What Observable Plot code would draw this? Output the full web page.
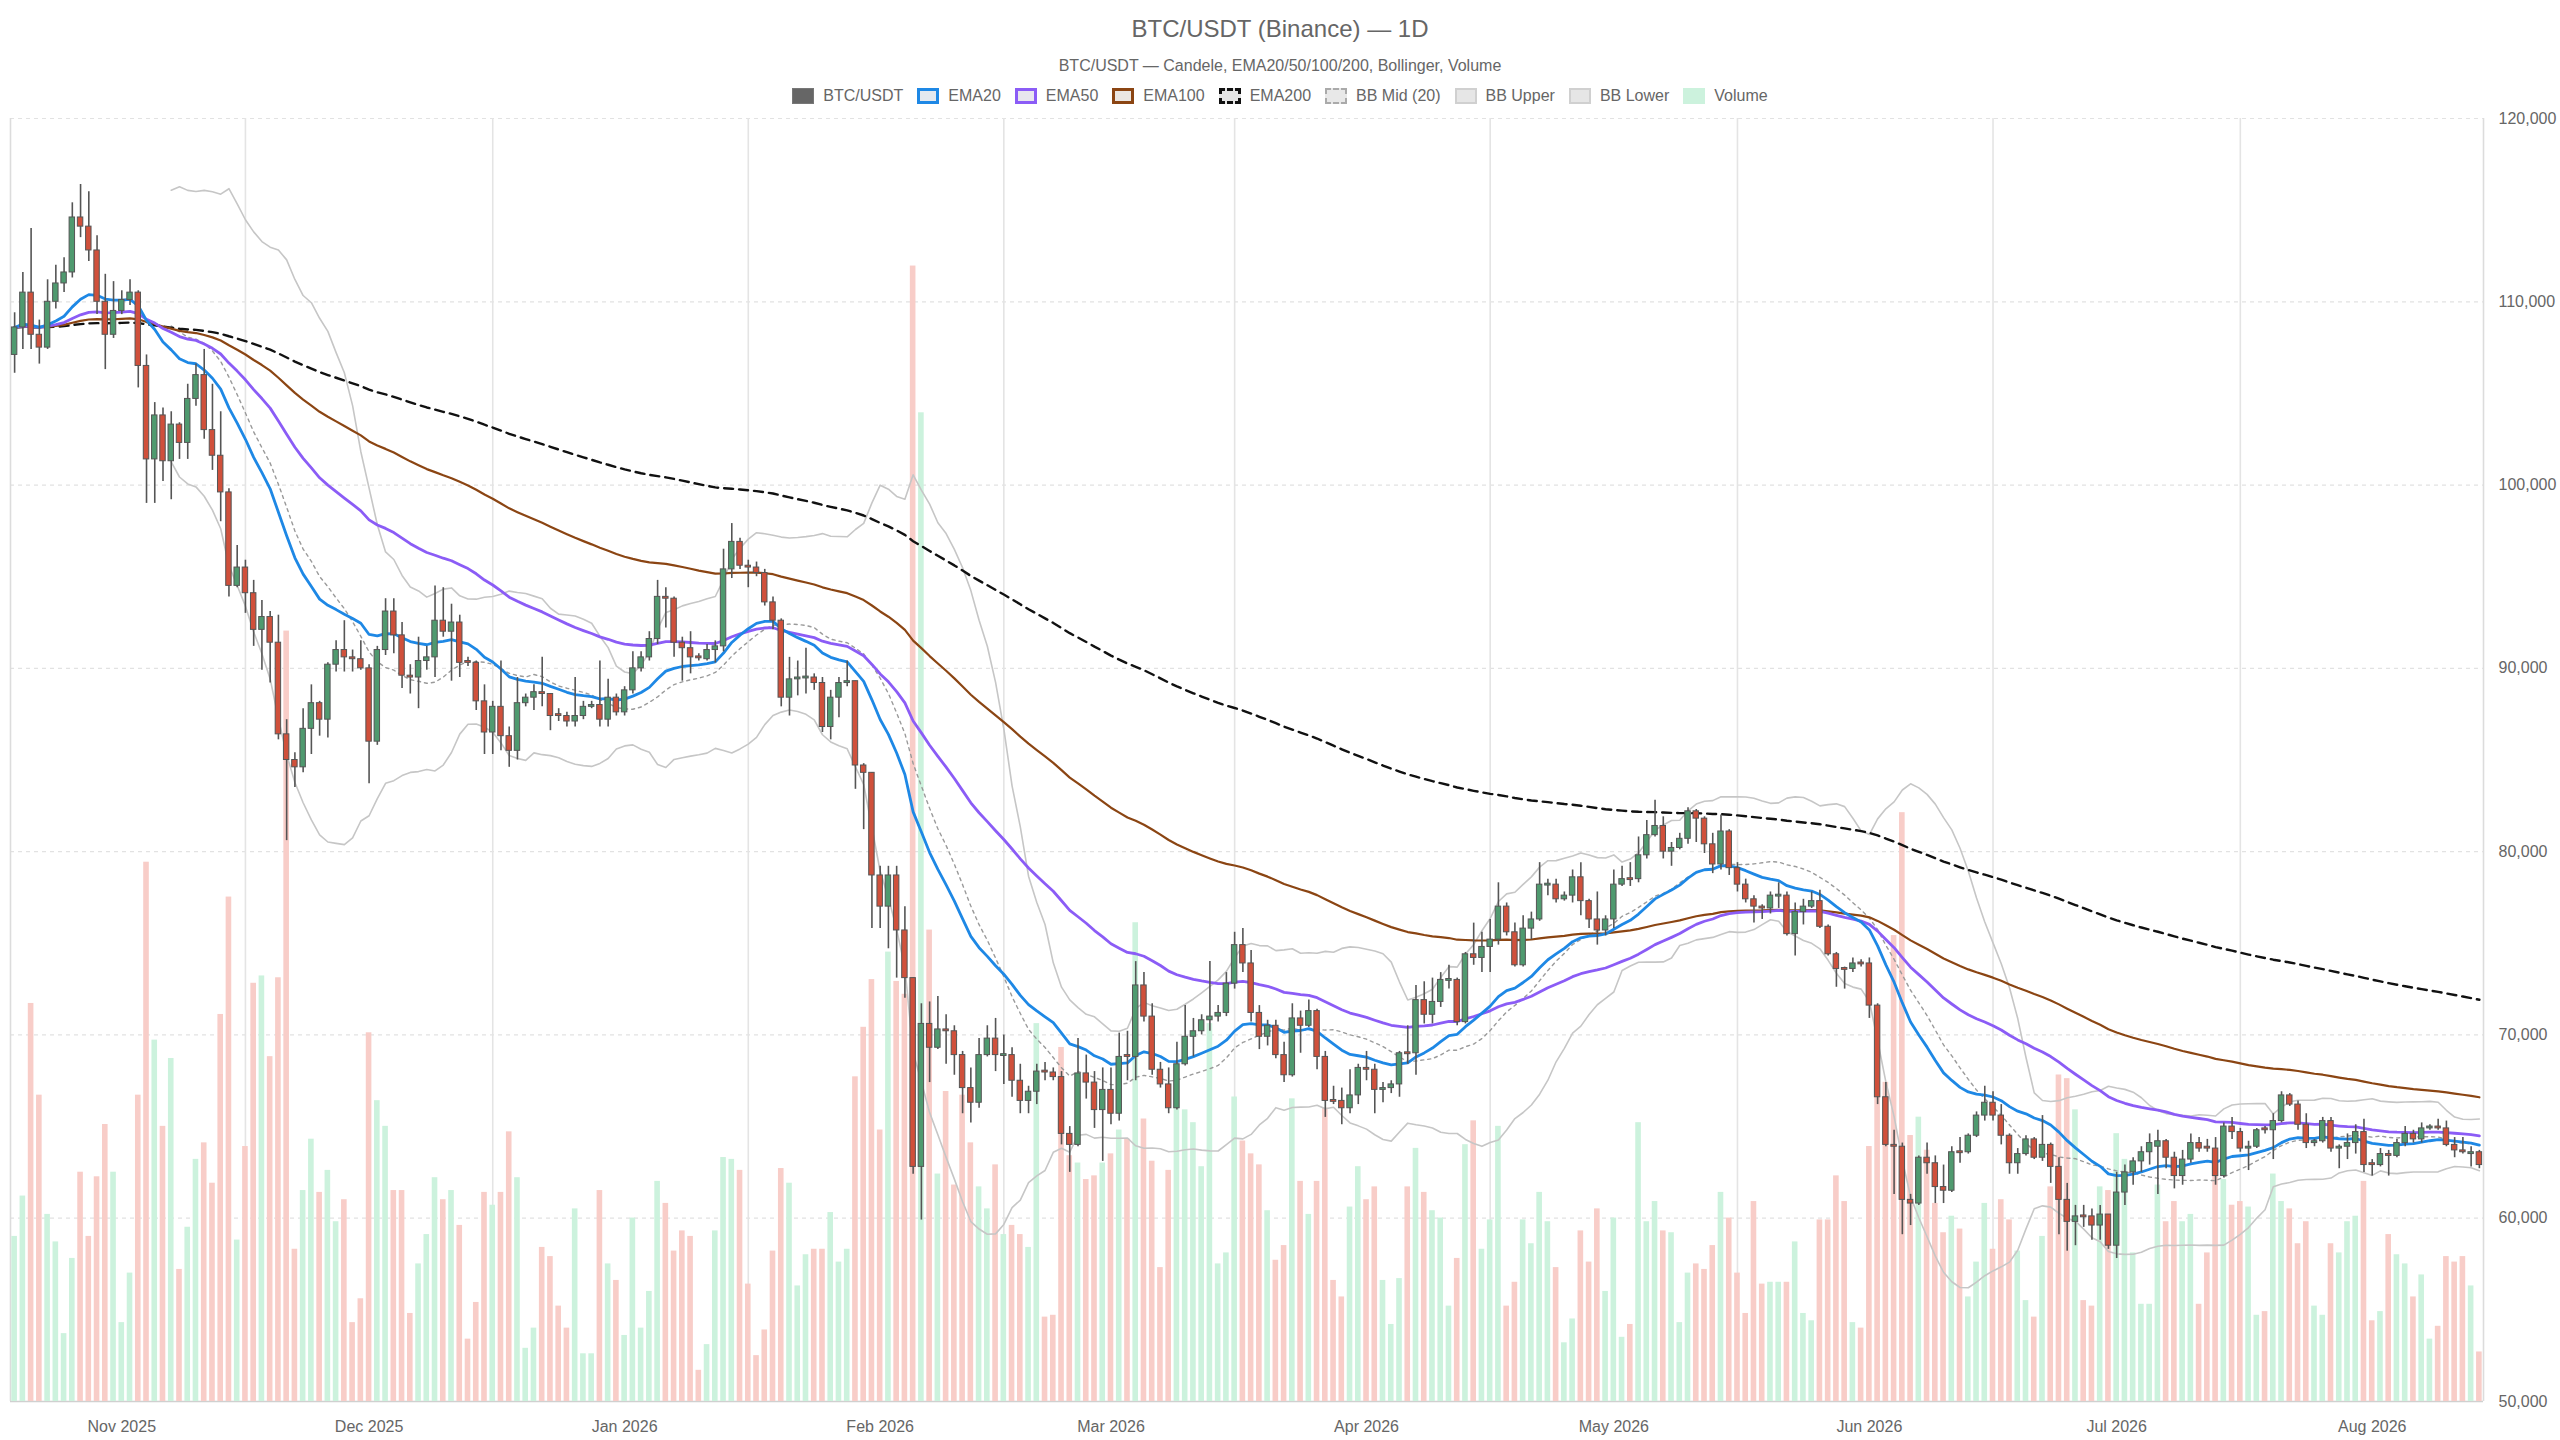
<!DOCTYPE html>
<html>
<head>
<meta charset="utf-8">
<script src="https://cdn.jsdelivr.net/npm/d3@7"></script>
<script src="https://cdn.jsdelivr.net/npm/@observablehq/plot@0.6"></script>
<style>
  html, body { margin: 0; padding: 0; background: #fff; }
  body { font-family: "Liberation Sans", Arial, sans-serif; color: #666; }
  #wrap { position: relative; width: 2560px; height: 1440px; overflow: hidden; }
  #title { position: absolute; top: 15px; left: 0; width: 100%; text-align: center; font-size: 24px; line-height: 28px; color: #666; }
  #subtitle { position: absolute; top: 56px; left: 0; width: 100%; text-align: center; font-size: 16px; line-height: 20px; color: #666; }
  #legend { position: absolute; top: 86px; left: 0; width: 100%; display: flex; justify-content: center; align-items: center; font-size: 16px; line-height: 20px; color: #666; }
  .item { display: flex; align-items: center; margin: 0 7px; }
  .sw { display: inline-block; width: 22px; height: 16px; margin-right: 9px; box-sizing: border-box; }
  #chart { position: absolute; top: 110px; left: 0; }
</style>
</head>
<body>
<div id="wrap">
  <div id="title"></div>
  <div id="subtitle"></div>
  <div id="legend"></div>
  <div id="chart"></div>
</div>
<script>
// ---------------- DATA (prices in thousands USDT, daily from 2025-10-19) ----------------
const titleText = "BTC/USDT (Binance) — 1D";
const subtitleText = "BTC/USDT — Candele, EMA20/50/100/200, Bollinger, Volume";
const startDay = "2025-10-19";

const open = [
107.1,108.6,110.5,108.2,107.5,110.0,111.0,111.6,114.6,114.1, 112.8,110.0,108.2,109.5,110.1,110.5,106.5,101.4,103.8,101.3,
103.3,102.3,104.7,106.0,103.0,101.6,99.6,94.5,95.5,94.1, 92.1,92.8,91.4,86.4,85.0,84.6,86.7,88.1,87.2,90.2,
91.0,90.6,90.5,90.0,86.0,91.0,93.1,91.8,89.6,89.5,
90.4,90.6,92.6,92.0,92.5,90.4,90.3,88.2,86.5,87.9, 86.3,85.5,88.1,88.4,88.7,88.6,87.5,87.4,87.1,87.4,
87.9,88.0,87.2,88.4,87.6,88.8,90.0,90.6,91.6,93.9, 93.8,91.4,91.1,90.65,90.5,91.0,91.2,95.4,96.9,95.6,
95.5,95.2,93.6,92.6,88.4,89.4,89.45,89.5,89.2,86.8,
88.4,89.2,89.3,84.7,84.3,78.7,77.0,78.7,75.7,73.1, 62.8,70.6,69.3,70.3,70.2,68.9,67.1,66.3,68.9,69.8,
68.85,68.9,67.5,66.4,66.9,68.05,67.95,67.7,64.6,64.0, 67.9,67.4,65.9,67.0,65.7,68.9,68.8,72.7,71.0,68.1,
67.3,66.0,68.4,69.9,70.2,70.8,71.0,71.2,72.8,74.9,
73.9,71.2,69.9,70.5,68.9,67.8,70.9,70.5,71.3,68.8, 66.45,66.4,66.0,66.7,68.2,68.1,67.0,67.1,67.3,69.05,
69.0,71.9,71.1,71.8,72.95,73.0,70.7,74.4,74.2,74.8, 75.2,77.0,75.6,73.8,75.8,76.3,78.15,78.2,77.4,77.6,
78.6,77.3,76.3,75.7,76.3,78.2,78.55,78.5,79.8,80.9,
81.4,80.0,80.2,80.7,82.2,81.8,80.4,79.3,81.1,79.1, 78.2,77.4,77.0,76.9,77.55,77.6,75.5,76.7,77.0,77.3,
75.9,74.4,73.65,73.6,73.95,73.9,71.6,66.6,64.0,63.9, 61.0,60.8,63.3,63.0,61.7,61.5,63.65,63.6,64.5,65.6,
66.3,65.6,64.5,63.0,63.5,64.3,63.3,64.0,62.8,61.0,
59.8,60.15,60.1,59.6,60.2,58.5,61.4,62.5,63.1,63.6, 63.9,64.2,63.3,62.3,63.2,64.1,63.9,63.8,62.3,65.0,
64.7,63.8,63.9,64.9,64.8,65.3,66.7,66.2,65.1,64.1, 64.2,65.3,63.8,63.9,64.1,64.7,63.0,62.9,63.5,63.4,
64.1,64.6,64.3,64.9,65.0,64.9,64.0,63.7,63.5,63.6
];
const high = [
109.4,111.6,114.0,109.0,111.2,112.0,112.4,115.4,116.4,116.0, 113.6,111.5,111.1,110.6,111.2,110.6,107.1,104.5,104.2,104.0,
103.4,105.5,106.6,107.4,105.5,104.0,99.8,96.7,95.9,94.8, 93.7,93.1,92.9,87.2,85.4,87.8,89.1,88.2,90.3,91.5,
92.6,91.0,91.5,90.2,91.2,93.8,93.8,92.5,90.2,91.7,
91.2,94.5,94.4,93.5,92.9,90.6,90.4,89.1,88.2,90.4, 86.8,89.5,88.6,89.1,90.6,88.6,87.8,87.6,89.5,88.2,
88.2,90.4,89.4,88.6,89.0,90.9,90.9,92.0,94.8,94.4, 93.9,91.7,92.0,90.8,91.3,91.5,96.5,97.9,97.1,95.9,
95.8,95.4,93.9,92.7,90.6,90.4,91.1,89.7,89.5,88.8,
89.5,90.4,89.3,84.8,84.3,79.2,79.2,79.2,77.0,73.1, 71.7,71.8,72.1,71.1,70.5,69.1,68.2,69.8,70.5,70.9,
70.0,69.3,68.4,67.2,68.4,68.5,68.2,68.0,65.0,69.8, 68.9,68.0,68.2,68.2,70.1,70.2,74.0,73.4,71.7,68.5,
68.2,69.6,71.6,70.9,71.1,74.0,71.6,73.4,75.6,75.8,
74.6,71.6,70.8,70.8,69.6,71.7,71.3,71.9,71.4,69.1, 67.2,67.1,68.1,68.4,69.1,68.4,67.4,67.5,69.1,70.5,
72.7,72.9,73.1,73.4,73.8,73.1,74.5,76.1,75.6,76.3, 78.3,77.2,76.1,76.5,76.7,79.4,78.5,78.5,77.8,79.0,
79.4,77.4,77.8,76.5,79.0,79.2,79.4,80.8,81.7,82.8,
81.9,80.5,81.0,82.4,82.3,81.9,81.0,82.0,81.2,79.4, 78.5,77.6,77.1,77.8,78.3,77.8,77.2,77.4,77.8,77.9,
76.0,74.5,73.7,74.2,74.1,74.2,71.7,67.4,64.8,64.1, 61.3,63.4,64.1,63.4,62.9,63.9,64.4,64.6,65.8,67.2,
66.9,66.2,64.6,63.8,64.5,64.4,65.6,64.1,63.3,61.9,
60.7,60.7,60.5,60.7,60.2,62.5,62.9,63.3,63.9,64.6, 64.8,64.3,63.6,63.7,64.6,64.4,64.3,64.4,65.2,65.5,
64.9,64.2,64.9,65.0,65.7,66.9,66.8,66.4,65.7,64.3, 65.5,65.5,64.0,64.6,65.1,65.4,63.2,63.8,63.7,64.3,
65.0,64.8,65.2,65.1,65.4,65.3,64.4,64.4,63.9,63.7
];
const low = [
106.1,107.4,107.4,106.6,107.4,109.6,110.5,111.3,113.5,112.2, 109.3,106.3,108.0,109.3,109.8,105.3,99.0,99.0,100.2,99.2,
101.4,101.4,104.3,102.5,100.8,98.0,93.9,94.4,93.0,91.2, 89.9,89.2,86.1,80.6,83.5,84.3,85.3,86.3,86.2,89.8,
89.8,89.8,89.9,83.7,85.8,90.7,90.8,88.9,88.6,87.8,
89.9,89.5,91.7,89.3,89.5,90.1,87.7,85.3,85.3,85.5, 84.6,85.0,87.9,87.7,87.9,86.6,87.1,86.8,86.8,87.2,
87.8,86.8,86.8,87.4,87.4,88.6,89.8,90.4,91.3,92.2, 90.6,89.3,89.7,90.4,90.4,90.3,90.9,94.9,95.4,94.4,
95.0,93.4,92.1,87.9,87.4,88.5,88.6,88.8,86.5,86.1,
87.3,89.0,83.4,81.2,75.8,75.8,74.7,73.1,72.0,62.4, 59.9,67.4,69.2,68.4,67.8,65.7,65.2,66.0,68.8,68.0,
67.3,66.6,65.7,65.7,66.2,67.5,67.5,64.0,62.5,63.9, 66.5,64.9,63.1,65.1,65.3,67.5,67.5,70.7,67.8,67.1,
65.7,65.9,68.3,68.8,70.0,70.2,70.7,71.0,72.5,73.4,
70.7,69.2,69.4,68.7,67.4,67.7,69.0,70.4,68.1,65.5, 66.2,65.1,65.7,66.2,67.5,65.7,66.3,66.8,66.6,68.4,
67.8,70.6,70.6,71.5,72.5,70.5,70.6,73.8,73.4,73.4, 74.9,75.4,73.7,73.7,75.2,76.2,77.6,77.2,77.3,77.2,
76.5,75.8,74.9,75.4,75.8,78.1,78.1,78.3,79.6,80.8,
79.6,79.2,80.1,80.4,80.5,79.9,78.8,79.0,78.7,77.8, 77.2,76.1,76.3,76.6,76.9,75.4,74.3,76.0,76.9,75.8,
74.3,72.6,72.5,73.4,73.7,70.9,66.2,63.9,61.3,59.1, 59.6,60.7,62.4,60.8,60.8,61.4,63.0,63.5,64.4,65.3,
65.3,64.0,62.4,62.4,63.4,63.2,63.1,61.9,59.1,58.2,
58.5,59.5,58.8,58.8,58.3,57.8,60.7,61.8,62.5,62.9, 61.3,62.7,61.6,61.8,63.0,63.6,63.6,61.8,62.2,64.3,
63.6,62.6,63.8,64.6,63.2,65.2,66.1,64.8,63.8,63.9, 64.1,63.6,62.7,63.2,63.5,62.5,62.3,62.8,62.3,63.3,
63.9,64.1,64.1,64.8,64.8,63.9,63.3,63.5,62.8,62.7
];
const close = [
108.6,110.5,108.2,107.5,110.0,111.0,111.6,114.6,114.1,112.8, 110.0,108.2,109.5,110.1,110.5,106.5,101.4,103.8,101.3,103.3,
102.3,104.7,106.0,103.0,101.6,99.6,94.5,95.5,94.1,92.1, 92.8,91.4,86.4,85.0,84.6,86.7,88.1,87.2,90.2,91.0,
90.6,90.5,90.0,86.0,91.0,93.1,91.8,89.6,89.5,90.4,
90.6,92.6,92.0,92.5,90.3,90.3,88.2,86.5,87.9,86.3, 85.5,88.1,88.4,88.7,88.6,87.4,87.4,87.1,87.4,87.9,
88.0,87.2,88.4,87.6,88.8,90.0,90.6,91.6,93.9,93.8, 91.4,91.1,90.6,90.55,91.0,91.2,95.4,96.9,95.6,95.5,
95.2,93.6,92.6,88.4,89.4,89.5,89.55,89.2,86.8,88.4,
89.2,89.3,84.7,84.3,78.7,77.0,78.7,75.7,73.1,62.8, 70.6,69.3,70.3,70.2,68.9,67.1,66.3,68.9,69.8,68.9,
68.95,67.5,66.4,66.9,68.0,67.95,67.7,64.6,64.0,67.9, 67.4,65.9,67.0,65.7,68.8,68.8,72.7,71.0,68.1,67.3,
66.0,68.4,69.9,70.2,70.8,71.0,71.2,72.8,74.9,73.9,
71.2,69.9,70.5,68.9,67.8,70.9,70.5,71.3,68.8,66.4, 66.35,66.0,66.7,68.2,68.1,67.0,67.1,67.3,69.0,68.95,
71.9,71.1,71.8,73.0,73.05,70.7,74.4,74.2,74.8,75.2, 77.0,75.6,73.8,75.8,76.3,78.2,78.25,77.4,77.6,78.6,
77.3,76.3,75.7,76.3,78.2,78.5,78.45,79.8,80.9,81.4,
80.0,80.2,80.7,82.2,81.8,80.4,79.3,81.1,79.1,78.2, 77.4,77.0,76.9,77.6,77.65,75.5,76.7,77.0,77.3,75.9,
74.4,73.6,73.55,73.9,73.85,71.6,66.6,64.0,63.9,61.0, 60.8,63.3,63.0,61.7,61.5,63.6,63.55,64.5,65.6,66.3,
65.6,64.5,63.0,63.5,64.3,63.3,64.0,62.8,61.0,59.8,
60.1,60.05,59.6,60.2,58.5,61.4,62.5,63.1,63.6,64.1, 64.2,63.3,62.3,63.2,64.1,63.8,63.8,62.3,65.0,64.7,
63.8,63.9,64.8,64.8,65.3,66.7,66.2,65.1,64.1,64.2, 65.3,63.8,63.9,64.1,64.7,62.9,62.9,63.5,63.4,64.1,
64.6,64.3,64.9,65.0,64.9,64.0,63.7,63.6,63.6,62.9
];
// daily volume, thousand BTC
const volume = [
9.0,11.2,21.7,16.7,10.2,8.7,3.7,7.8,12.5,9.0, 12.25,15.1,12.5,4.3,7.0,16.7,29.4,19.7,15.0,18.7,
7.2,9.5,13.2,14.1,11.9,21.1,27.5,8.8,13.9,22.8, 23.2,18.8,23.1,42.0,8.3,11.5,14.3,11.4,12.6,9.8,
11.0,4.3,5.6,20.1,16.4,15.0,11.5,11.5,4.8,7.5,
9.1,12.2,11.0,11.5,9.6,3.4,5.4,11.4,10.7,11.4, 14.7,12.2,2.9,4.0,8.4,7.9,5.2,4.0,10.5,2.6,
2.6,11.5,7.5,6.6,3.6,10.0,4.0,6.0,12.0,10.8, 8.2,9.3,9.0,1.7,3.1,9.3,13.3,13.2,12.6,6.4,
2.5,3.9,8.2,12.7,11.9,6.3,8.0,8.3,8.3,10.3,
7.6,8.3,17.7,20.4,23.0,14.8,24.5,22.9,22.2,61.9, 53.9,25.7,12.4,16.9,11.8,16.7,14.1,11.7,10.5,12.9,
9.1,9.6,9.1,8.4,20.6,4.6,4.7,19.3,13.4,13.0, 12.1,12.3,13.0,13.5,14.8,14.3,26.1,15.4,13.1,7.3,
12.6,16.6,15.9,15.2,12.8,20.6,7.5,8.1,16.6,14.2,
13.5,12.9,10.4,7.7,8.5,16.5,12.0,10.2,12.0,16.0, 6.6,5.7,10.6,12.8,11.0,11.7,6.6,4.2,6.7,11.7,
13.8,11.4,10.4,10.0,5.2,7.8,14.0,15.3,8.3,9.9, 15.0,5.2,6.5,9.9,8.6,11.4,9.8,7.3,3.2,4.5,
9.3,7.6,10.5,6.0,10.0,3.5,4.2,15.2,9.8,10.9,
9.3,9.2,4.3,7.0,7.5,7.2,8.5,11.4,10.0,7.0, 4.8,10.9,6.4,6.5,6.5,6.5,8.7,4.8,4.4,9.9,
9.9,12.3,10.9,4.3,4.0,13.9,17.5,17.4,25.4,32.1, 14.5,15.5,13.7,10.8,9.2,10.1,9.4,5.7,7.6,10.8,
8.3,11.0,9.9,8.2,5.5,4.6,9.0,11.7,17.8,17.6,
15.9,5.5,5.2,11.7,11.5,14.6,13.2,8.1,5.3,5.3, 11.8,9.8,10.9,9.8,10.2,5.3,8.1,13.0,12.1,10.7,
10.9,10.6,4.7,4.9,12.4,10.9,10.5,8.6,9.8,5.2, 4.7,8.6,8.1,9.8,10.1,12.0,4.4,4.9,9.1,8.0,
7.5,5.7,6.9,3.4,4.1,7.9,7.6,7.9,6.3,2.7
];

const yTicks = [50000, 60000, 70000, 80000, 90000, 100000, 110000, 120000];
const monthTicks = ["2025-11-01","2025-12-01","2026-01-01","2026-02-01","2026-03-01","2026-04-01","2026-05-01","2026-06-01","2026-07-01","2026-08-01"];
const gridDays = ["2025-11-16","2025-12-16","2026-01-16","2026-02-16","2026-03-16","2026-04-16","2026-05-16","2026-06-16","2026-07-16"];
const legendNames = ["BTC/USDT","EMA20","EMA50","EMA100","EMA200","BB Mid (20)","BB Upper","BB Lower","Volume"];

// ---------------- BUILD ----------------
const K = 1000;
const parse = d3.utcParse("%Y-%m-%d");
const t0 = parse(startDay);
const n = close.length;
if ([open, high, low, volume].some(a => a.length !== n)) {
  document.getElementById("title").textContent = "LENGTH MISMATCH " + [open.length, high.length, low.length, close.length, volume.length].join(",");
}
const day = 864e5;
const dates = close.map((_, i) => d3.utcDay.offset(t0, i));

function ema(arr, p) {
  const a = 2 / (p + 1); const out = []; let e = arr[0];
  arr.forEach((v, i) => { e = i === 0 ? v : a * v + (1 - a) * e; out.push(e); });
  return out;
}
const closesUSD = close.map(v => v * K);
const e20 = ema(closesUSD, 20), e50 = ema(closesUSD, 50), e100 = ema(closesUSD, 100), e200 = ema(closesUSD, 200);
const bbMid = [], bbUp = [], bbLo = [];
for (let i = 0; i < n; i++) {
  if (i < 19) { bbMid.push(NaN); bbUp.push(NaN); bbLo.push(NaN); continue; }
  const w = closesUSD.slice(i - 19, i + 1);
  const m = d3.mean(w);
  const sd = Math.sqrt(d3.mean(w, v => (v - m) ** 2));
  bbMid.push(m); bbUp.push(m + 2 * sd); bbLo.push(m - 2 * sd);
}

const volFactor = 70000 * 0.885 / d3.max(volume);
const rows = dates.map((d, i) => {
  const o = open[i] * K, c = close[i] * K;
  let lo = Math.min(o, c), hi = Math.max(o, c);
  if (hi - lo < 80) { const mid = (hi + lo) / 2; lo = mid - 40; hi = mid + 40; }
  return {
    date: d, x1: new Date(+d - 0.33 * day), x2: new Date(+d + 0.33 * day),
    vx1: new Date(+d - 0.34 * day), vx2: new Date(+d + 0.34 * day),
    open: o, close: c, high: high[i] * K, low: low[i] * K, bLo: lo, bHi: hi,
    up: c >= o, vTop: 50000 + volume[i] * volFactor,
    e20: e20[i], e50: e50[i], e100: e100[i], e200: e200[i],
    mid: bbMid[i], upper: bbUp[i], lower: bbLo[i]
  };
});
const upRows = rows.filter(r => r.up), downRows = rows.filter(r => !r.up);

const xDomain = [new Date(+dates[0] - 0.5 * day), new Date(+dates[n - 1] + 0.5 * day)];

const chart = Plot.plot({
  width: 2560, height: 1330,
  marginTop: 8, marginBottom: 39, marginLeft: 10, marginRight: 77,
  style: { fontFamily: "'Liberation Sans', Arial, sans-serif", fontSize: "16px", color: "#666", background: "#fff", overflow: "visible" },
  x: { type: "utc", domain: xDomain },
  y: { domain: [50000, 120000] },
  marks: [
    Plot.ruleY(yTicks, { stroke: "#e2e2e2", strokeWidth: 1.2, strokeDasharray: "4,4" }),
    Plot.ruleX(gridDays.map(parse), { stroke: "#e4e4e4", strokeWidth: 1.6 }),
    Plot.ruleX(xDomain, { stroke: "#dcdcdc", strokeWidth: 1.6 }),
    Plot.ruleY([50000], { stroke: "#d0d0d0", strokeWidth: 1.5 }),
    // volume
    Plot.rect(upRows, { x1: "vx1", x2: "vx2", y1: 50000, y2: "vTop", fill: "#ccf2dd" }),
    Plot.rect(downRows, { x1: "vx1", x2: "vx2", y1: 50000, y2: "vTop", fill: "#f8cdc8" }),
    // Bollinger
    Plot.line(rows, { x: "date", y: "lower", stroke: "#c6c6c6", strokeWidth: 1.6 }),
    Plot.line(rows, { x: "date", y: "upper", stroke: "#c6c6c6", strokeWidth: 1.6 }),
    Plot.line(rows, { x: "date", y: "mid", stroke: "#9a9a9a", strokeWidth: 1.4, strokeDasharray: "3,4" }),
    // EMAs
    Plot.line(rows, { x: "date", y: "e200", stroke: "#111", strokeWidth: 2.4, strokeDasharray: "9,6" }),
    Plot.line(rows, { x: "date", y: "e100", stroke: "#8b4513", strokeWidth: 2.2 }),
    Plot.line(rows, { x: "date", y: "e50", stroke: "#8b5cf6", strokeWidth: 2.8 }),
    Plot.line(rows, { x: "date", y: "e20", stroke: "#1e88e5", strokeWidth: 2.8 }),
    // candles
    Plot.ruleX(rows, { x: "date", y1: "low", y2: "high", stroke: "#555", strokeWidth: 1.6 }),
    Plot.rect(upRows, { x1: "x1", x2: "x2", y1: "bLo", y2: "bHi", fill: "#4f9a6f", stroke: "#555", strokeWidth: 1 }),
    Plot.rect(downRows, { x1: "x1", x2: "x2", y1: "bLo", y2: "bHi", fill: "#d0503b", stroke: "#555", strokeWidth: 1 }),
    // axes
    Plot.axisX({ ticks: monthTicks.map(parse), tickFormat: d3.utcFormat("%b %Y"), tickSize: 0, tickPadding: 19, anchor: "bottom", label: null }),
    Plot.axisY({ ticks: yTicks, tickFormat: d3.format(","), tickSize: 0, tickPadding: 15, anchor: "right", label: null })
  ]
});
document.getElementById("chart").appendChild(chart);

// ---------------- HEADER & LEGEND ----------------
if (!document.getElementById("title").textContent) document.getElementById("title").textContent = titleText;
document.getElementById("subtitle").textContent = subtitleText;
const swatchStyle = {
  "BTC/USDT": "background:#666;border:1.5px solid #777;",
  "EMA20": "background:#e4e9ef;border:3px solid #1e88e5;",
  "EMA50": "background:#e8e6ee;border:3px solid #8b5cf6;",
  "EMA100": "background:#ebe6e2;border:3px solid #8b4513;",
  "EMA200": "background:#e6e6e6;border:3px dashed #111;",
  "BB Mid (20)": "background:#e8e8e8;border:2px dashed #aaa;",
  "BB Upper": "background:#e6e6e6;border:2px solid #d0d0d0;",
  "BB Lower": "background:#e6e6e6;border:2px solid #d0d0d0;",
  "Volume": "background:#ccf2dd;border:none;"
};
const leg = document.getElementById("legend");
legendNames.forEach(name => {
  const it = document.createElement("div"); it.className = "item";
  const sw = document.createElement("span"); sw.className = "sw"; sw.style.cssText = swatchStyle[name];
  const tx = document.createElement("span"); tx.textContent = name;
  it.appendChild(sw); it.appendChild(tx); leg.appendChild(it);
});
</script>
</body>
</html>
